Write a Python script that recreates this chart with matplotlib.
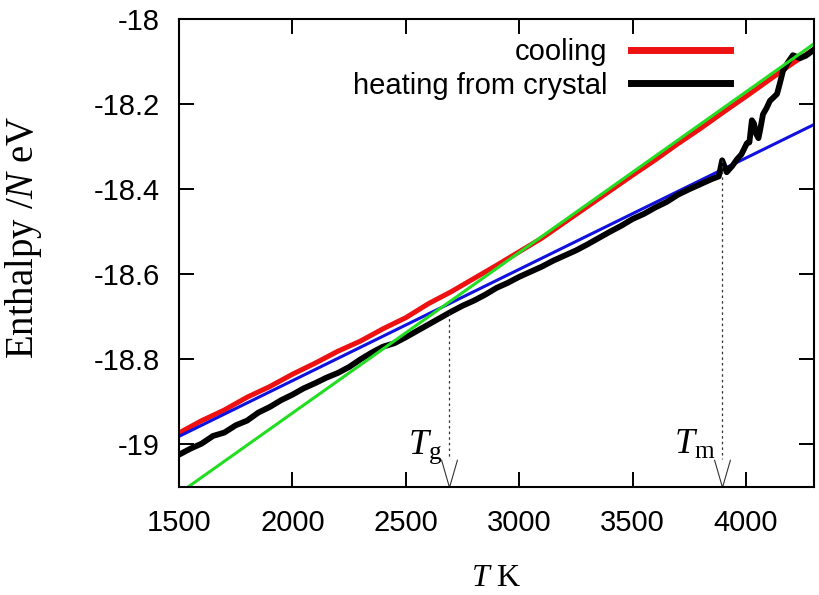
import numpy as np
import matplotlib
matplotlib.use("Agg")
import matplotlib.pyplot as plt
from matplotlib.path import Path

# cooling run (liquid -> glass)
T_cool = [1500, 1600, 1700, 1800, 1900, 2000, 2100, 2200, 2300, 2400,
          2500, 2600, 2700, 2800, 2900, 3000, 3100, 3200, 3300, 3400,
          3500, 3600, 3700, 3800, 3900, 4000, 4100, 4200, 4300]
H_cool = [-18.973, -18.944, -18.919, -18.889, -18.864, -18.835, -18.809, -18.781, -18.757, -18.728,
          -18.702, -18.669, -18.641, -18.610, -18.579, -18.547, -18.515, -18.478, -18.441, -18.404,
          -18.367, -18.331, -18.293, -18.257, -18.219, -18.182, -18.144, -18.106, -18.071]

# heating run starting from the crystal
T_heat = [1500, 1550, 1600, 1650, 1700, 1750, 1800, 1850, 1900, 1950,
          2000, 2050, 2100, 2150, 2200, 2250, 2300, 2350, 2400, 2450,
          2500, 2550, 2600, 2650, 2700, 2750, 2800, 2850, 2900, 2950,
          3000, 3050, 3100, 3150, 3200, 3250, 3300, 3350, 3400, 3450,
          3500, 3550, 3600, 3650, 3700, 3750, 3800, 3850, 3880, 3895,
          3915, 3940, 3960, 3980, 4004, 4015, 4026, 4035, 4045, 4055,
          4062, 4075, 4090, 4106, 4120, 4137, 4150, 4163, 4185, 4207,
          4238, 4265, 4300]
H_heat = [-19.024, -19.010, -18.998, -18.980, -18.972, -18.955, -18.944, -18.925, -18.912, -18.896,
          -18.883, -18.868, -18.856, -18.843, -18.832, -18.818, -18.800, -18.784, -18.770, -18.762,
          -18.748, -18.733, -18.718, -18.703, -18.688, -18.674, -18.662, -18.648, -18.632, -18.620,
          -18.606, -18.594, -18.582, -18.568, -18.556, -18.544, -18.530, -18.515, -18.500, -18.486,
          -18.470, -18.458, -18.443, -18.430, -18.413, -18.400, -18.388, -18.376, -18.370, -18.332,
          -18.360, -18.345, -18.330, -18.318, -18.292, -18.290, -18.238, -18.245, -18.270, -18.280,
          -18.262, -18.224, -18.210, -18.192, -18.185, -18.176, -18.150, -18.122, -18.102, -18.085,
          -18.092, -18.086, -18.072]

# linear fits
T_fit = [1500, 4300]
H_fit_liquid = [-19.115, -18.058]
H_fit_glass = [-18.981, -18.248]

Tg = 2690
Tm = 3895

xticks = [1500, 2000, 2500, 3000, 3500, 4000]
yticks = [-19.0, -18.8, -18.6, -18.4, -18.2, -18.0]
ytick_labels = ['-19', '-18.8', '-18.6', '-18.4', '-18.2', '-18']

plt.rcParams['font.family'] = ['Liberation Sans', 'DejaVu Sans']
plt.rcParams['mathtext.fontset'] = 'custom'
plt.rcParams['mathtext.rm'] = 'Liberation Serif'
plt.rcParams['mathtext.it'] = 'Liberation Serif:italic'

fig = plt.figure(figsize=(8.2, 5.95), dpi=100)
ax = fig.add_axes([0.2183, 0.1815, 0.7744, 0.7865])

ax.plot(T_cool, H_cool, color='#ee1111', lw=3.6, label='cooling')
ax.plot(T_fit, H_fit_glass, color='#1010e0', lw=2.2)
ax.plot(T_heat, H_heat, color='black', lw=4.2, label='heating from crystal')
ax.plot(T_fit, H_fit_liquid, color='#22dd22', lw=2.2)

ax.set_xlim(1500, 4300)
ax.set_ylim(-19.1, -18.0)
ylo = -19.1

# Tg / Tm markers
vhead = Path([(-0.29, 1.0), (0.0, 0.0), (0.29, 1.0)],
             [Path.MOVETO, Path.LINETO, Path.LINETO])
for t, lab in [(Tg, r'$T_{\mathrm{g}}$'), (Tm, r'$T_{\mathrm{m}}$')]:
    top = np.interp(t, T_heat, H_heat)
    ax.plot([t, t], [top, ylo + 0.066], color='#333333', lw=0.9,
            linestyle=(0, (2, 2.5)))
    ax.plot([t], [ylo], marker=vhead, markersize=40, markerfacecolor='none',
            markeredgecolor='#333333', markeredgewidth=0.8, clip_on=False)
    ax.annotate(lab, xy=(t, ylo), xytext=(-5, 24), textcoords='offset points',
                ha='right', va='baseline', fontsize=26)

ax.set_xticks(xticks)
ax.set_xticklabels([str(x) for x in xticks])
ax.set_yticks(yticks)
ax.set_yticklabels(ytick_labels)
ax.tick_params(direction='in', length=11, width=1.4, labelsize=21,
               top=True, right=True)
ax.tick_params(axis='x', pad=16)
ax.tick_params(axis='y', pad=14)
for s in ax.spines.values():
    s.set_linewidth(1.5)

ax.set_xlabel(r'$T$ K', fontsize=23, family='Liberation Serif')
ax.set_ylabel(r'Enthalpy /$N$ eV', fontsize=28, family='Liberation Serif')
ax.xaxis.set_label_coords(0.5, -0.165)
ax.yaxis.set_label_coords(-0.212, 0.534)

# markerfirst=False right-aligns the labels against the line samples
leg = ax.legend(loc='upper right', bbox_to_anchor=(0.868, 0.96),
                frameon=False, markerfirst=False, fontsize=21,
                handlelength=3.4, handletextpad=0.8, labelspacing=0.2,
                borderpad=0, borderaxespad=0)
for h in leg.get_lines():
    h.set_linewidth(5)

fig.savefig('out.png', dpi=100)
